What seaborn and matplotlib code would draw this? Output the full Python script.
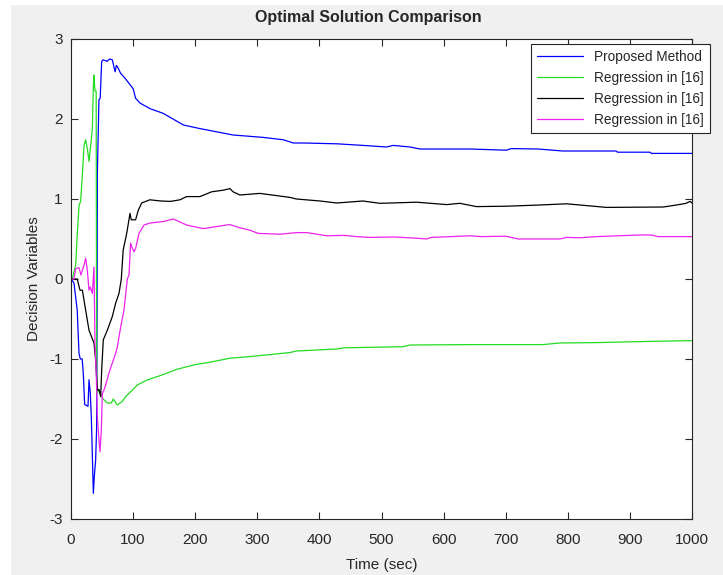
import matplotlib
matplotlib.use("Agg")
import matplotlib.pyplot as plt
from matplotlib.patches import Rectangle
import seaborn as sns

# valores (tiempo en s, valor de la variable)
t_propuesto = [0, 4.8, 10, 12.9, 15, 18, 19.8, 22, 27.4, 29, 31, 32.7, 36, 37.5, 39.7,
               41.3, 42, 42.4, 45, 47, 49.4, 52, 58, 62, 66.5, 71, 73, 75, 80, 87,
               100, 104, 111, 127, 148.6, 181, 207.7, 261, 309.7, 342, 358, 374, 428,
               470, 508, 519, 546, 562, 642, 701, 709, 752, 792, 878, 880, 932, 935, 1000]
v_propuesto = [0, -0.05, -0.39, -0.93, -1.0, -1.0, -1.18, -1.57, -1.59, -1.26, -1.42, -1.72,
               -2.68, -2.47, -2.26, -1.85, -0.3, 1.3, 2.24, 2.26, 2.72, 2.74, 2.72, 2.75, 2.74,
               2.59, 2.67, 2.65, 2.57, 2.51, 2.38, 2.26, 2.2, 2.13, 2.07, 1.925, 1.88, 1.80,
               1.77, 1.74, 1.70, 1.70, 1.69, 1.67, 1.65, 1.67, 1.65, 1.625, 1.625, 1.61, 1.63,
               1.625, 1.6, 1.6, 1.585, 1.585, 1.57, 1.57]

t_verde = [0, 2, 7.5, 10, 13, 15.5, 18.3, 21, 23.6, 26.5, 29, 31.7, 34.4, 36, 37, 38.5,
           40.5, 41.3, 41.8, 45, 50.5, 58.5, 65, 68, 74.6, 82.7, 88, 96, 106.8, 123, 139,
           150, 170, 200, 224, 256, 288, 352, 363, 428, 440, 535, 546, 642, 760, 787, 846,
           932, 1000]
v_verde = [0, 0.0, 0.17, 0.55, 0.92, 0.97, 1.3, 1.67, 1.74, 1.62, 1.47, 1.67, 1.88, 2.42,
           2.55, 2.35, 2.35, -1.0, -1.43, -1.39, -1.49, -1.55, -1.55, -1.5, -1.575, -1.53,
           -1.47, -1.41, -1.325, -1.26, -1.22, -1.19, -1.13, -1.07, -1.04, -0.99, -0.97,
           -0.92, -0.9, -0.875, -0.86, -0.846, -0.825, -0.82, -0.82, -0.80, -0.795, -0.78,
           -0.77]

t_negro = [0, 10, 14.5, 18.3, 23.6, 29, 37, 39.7, 42.4, 45, 47.8, 49.4, 52, 58.5, 66.5,
           72, 77.3, 81, 84, 89.7, 95, 97, 104, 108.4, 113.8, 127, 144.5, 160, 175.5, 186,
           207.7, 226.5, 245, 256, 261, 272, 304, 352.7, 363, 401, 428, 470, 497.6, 556.6,
           605, 626, 653, 701.6, 755, 798, 841, 862, 954, 975, 990, 997, 1000]
v_negro = [0, 0, -0.14, -0.14, -0.39, -0.64, -0.8, -1.01, -1.39, -1.38, -1.47, -1.14, -0.76,
           -0.64, -0.47, -0.30, -0.18, 0.0, 0.36, 0.57, 0.82, 0.74, 0.74, 0.86, 0.95, 0.99,
           0.975, 0.97, 0.99, 1.03, 1.03, 1.09, 1.11, 1.13, 1.09, 1.05, 1.07, 1.02, 1.0,
           0.975, 0.95, 0.975, 0.946, 0.96, 0.93, 0.946, 0.905, 0.91, 0.925, 0.94, 0.91,
           0.895, 0.9, 0.925, 0.945, 0.97, 0.95]

t_magenta = [0, 4.8, 7.5, 13, 16, 21, 23.6, 26.3, 29, 31, 34.4, 37, 38.6, 40.5, 42.4, 45,
             46.7, 48.8, 50.5, 53, 55.8, 61, 66.5, 72, 74.6, 80, 85.3, 90.7, 93.4, 96, 98,
             101.4, 104, 109.5, 117.5, 128, 150, 159.4, 165, 186, 213, 250.7, 256, 272, 288,
             301.6, 336.6, 363, 380, 411.8, 440, 460, 481.5, 520, 556.6, 572.8, 580, 642.5,
             660, 700, 720, 787, 798, 820, 846.5, 916, 935, 945, 1000]
v_magenta = [0, 0.0, 0.13, 0.14, 0.05, 0.175, 0.26, 0.11, -0.14, -0.1, -0.18, 0.15, -0.8,
             -1.14, -1.72, -2.01, -2.16, -1.89, -1.43, -1.39, -1.325, -1.18, -1.05, -0.93,
             -0.85, -0.6, -0.39, 0.0, 0.05, 0.45, 0.4, 0.34, 0.38, 0.57, 0.675, 0.70, 0.72,
             0.74, 0.75, 0.675, 0.63, 0.675, 0.68, 0.64, 0.61, 0.57, 0.56, 0.58, 0.58, 0.54,
             0.545, 0.53, 0.52, 0.525, 0.51, 0.50, 0.52, 0.54, 0.53, 0.535, 0.50, 0.50, 0.52,
             0.515, 0.53, 0.55, 0.55, 0.53, 0.53]

series = [
    (t_propuesto, v_propuesto, "Proposed Method", "#0000ff"),
    (t_verde, v_verde, "Regression in [16]", "#22dd22"),
    (t_negro, v_negro, "Regression in [16]", "#000000"),
    (t_magenta, v_magenta, "Regression in [16]", "#ee22ee"),
]

sns.set_style("ticks")
plt.rcParams['font.family'] = ['Liberation Sans', 'DejaVu Sans']
plt.rcParams['axes.unicode_minus'] = False
plt.rcParams['xtick.direction'] = 'in'
plt.rcParams['ytick.direction'] = 'in'

fig = plt.figure(figsize=(7.23, 5.75), dpi=100)
fig.patch.set_facecolor('white')
# fondo gris tipo MATLAB (con la franja blanca de la captura)
fig.patches.append(Rectangle((11 / 723, 0), 1, 1 - 5 / 575, transform=fig.transFigure,
                             facecolor='#f0f0f0', edgecolor='none', zorder=-10))
ax = fig.add_axes([71 / 723, 1 - 519 / 575, 621 / 723, 480 / 575])
ax.set_facecolor('white')

for t, v, nombre, color in series:
    sns.lineplot(x=t, y=v, ax=ax, color=color, label=nombre, linewidth=0.9,
                 sort=False, estimator=None)

ax.set_xlim(0, 1000)
ax.set_ylim(-3, 3)
ax.set_xticks(range(0, 1001, 100))
ax.set_yticks(range(-3, 4))
ax.tick_params(axis='both', which='both', top=True, right=True, length=5, width=0.8,
               color='#262626', labelsize=11, labelcolor='#262626')
ax.tick_params(axis='x', pad=10)
ax.tick_params(axis='y', pad=6)
for s in ax.spines.values():
    s.set_visible(True)
    s.set_color('#262626')
    s.set_linewidth(0.8)

ax.set_title('Optimal Solution Comparison', fontsize=11.5, fontweight='bold',
             x=(368 - 71) / 621, pad=12)
ax.set_xlabel('Time (sec)', fontsize=11, color='#262626', labelpad=8)
ax.set_ylabel('Decision Variables', fontsize=11, color='#262626', labelpad=6)

leg = ax.legend(loc='upper left', bbox_to_anchor=(531 / 723, 1 - 44 / 575),
                bbox_transform=fig.transFigure, borderaxespad=0, fontsize=9.8,
                handlelength=3.4, labelspacing=0.5, fancybox=False, framealpha=1,
                edgecolor='#262626', borderpad=0.45)
leg.get_frame().set_linewidth(0.8)

fig.savefig('out.png', dpi=100)
